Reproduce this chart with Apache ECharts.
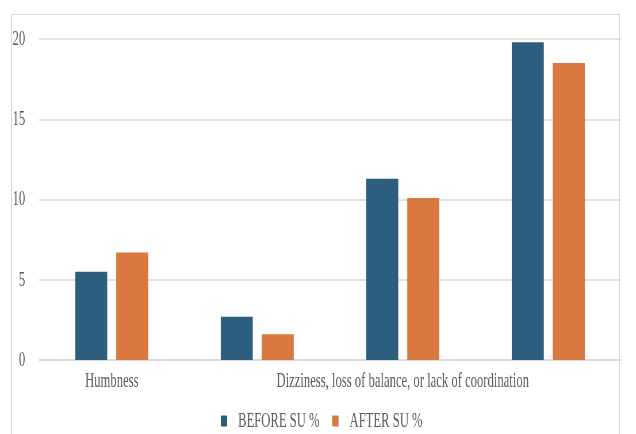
<!DOCTYPE html>
<html>
<head>
<meta charset="utf-8">
<script src="https://cdn.jsdelivr.net/npm/echarts@6/dist/echarts.min.js"></script>
<style>
  html, body { margin: 0; padding: 0; background: #fff; overflow: hidden; }
  #frame {
    position: absolute; left: 11px; top: 14px; width: 609px; height: 440px;
    border: 1px solid #d9d9d9; border-bottom: none; box-sizing: border-box;
  }
  /* the chart is laid out wide and then narrowed, which gives the condensed serif lettering */
  #chart {
    position: absolute; left: 0; top: 0; width: 1106px; height: 434px;
    transform: scaleX(0.575); transform-origin: 0 0;
  }
</style>
</head>
<body>
<div id="frame"></div>
<div id="chart"></div>
<script>
const categories = ['Humbness', '', 'Dizziness, loss of balance, or lack of coordination', ''];
const seriesNames = ['BEFORE SU %', 'AFTER SU %'];
const beforeValues = [5.5, 2.7, 11.3, 19.8];
const afterValues = [6.7, 1.6, 10.1, 18.5];
const yTicks = [0, 5, 10, 15, 20];

const serif = '"Liberation Serif", "Times New Roman", serif';
const textGrey = '#595959';
const lineGrey = '#d9d9d9';

const chart = echarts.init(document.getElementById('chart'), null, { renderer: 'canvas' });
chart.setOption({
  animation: false,
  color: ['#2e5e7e', '#d97841'],
  grid: { left: 67.8, right: 26, top: 39, bottom: 74, containLabel: false },
  legend: {
    data: seriesNames,
    bottom: -3,
    left: 379,
    itemWidth: 11,
    itemHeight: 11,
    itemGap: 22,
    icon: 'rect',
    textStyle: { fontFamily: serif, fontSize: 22, color: textGrey, padding: [0, 0, 0, 14] }
  },
  xAxis: {
    type: 'category',
    data: categories,
    axisLine: { lineStyle: { color: lineGrey, width: 1.5 } },
    axisTick: { show: false },
    axisLabel: { interval: 0, margin: 10, fontFamily: serif, fontSize: 22, color: textGrey }
  },
  yAxis: {
    type: 'value',
    min: yTicks[0],
    max: yTicks[yTicks.length - 1],
    interval: yTicks[1] - yTicks[0],
    axisLine: { show: false },
    axisTick: { show: false },
    splitLine: { lineStyle: { color: lineGrey, width: 1.5 } },
    axisLabel: { margin: 24, fontFamily: serif, fontSize: 22, color: textGrey }
  },
  series: [
    { name: seriesNames[0], type: 'bar', data: beforeValues, barWidth: '22%', barGap: '28%' },
    { name: seriesNames[1], type: 'bar', data: afterValues, barWidth: '22%', barGap: '28%' }
  ]
});
</script>
</body>
</html>
